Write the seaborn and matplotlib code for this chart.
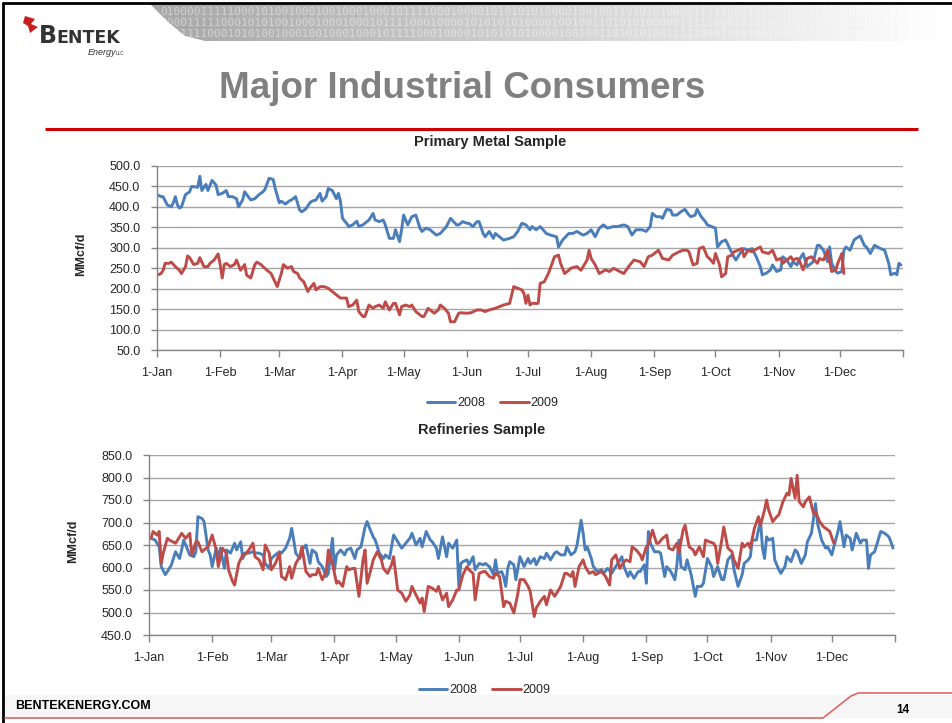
import numpy as np
import pandas as pd
import matplotlib
matplotlib.use("Agg")
import matplotlib.pyplot as plt
from matplotlib.patches import Polygon, Rectangle
from matplotlib.ticker import FormatStrFormatter
import seaborn as sns

# ---- data (day of year, MMcf/d) ----
metal_2008_day = [0, 2, 3, 5, 7, 8, 9, 10, 11, 12, 14, 16, 17, 20, 21, 22, 24, 25, 27, 29, 30, 32, 34, 35, 37, 39,
                  40, 42, 43, 44, 46, 48, 50, 52, 53, 55, 57, 58, 60, 61, 63, 65, 66, 68, 70, 71, 73, 75, 76, 78,
                  80, 81, 83, 84, 86, 88, 89, 90, 91, 93, 94, 96, 98, 99, 101, 102, 104, 106, 107, 109, 111, 112,
                  114, 116, 117, 119, 120, 121, 123, 125, 127, 129, 130, 132, 134, 137, 139, 142, 144, 147, 148,
                  150, 152, 153, 155, 157, 158, 160, 161, 163, 165, 166, 168, 170, 173, 175, 177, 179, 181, 183,
                  184, 186, 188, 191, 193, 196, 197, 199, 202, 204, 206, 209, 211, 213, 215, 217, 219, 221, 224,
                  226, 229, 231, 233, 235, 238, 240, 242, 243, 245, 247, 248, 250, 252, 253, 255, 257, 259, 261,
                  262, 264, 265, 267, 269, 270, 272, 274, 275, 277, 279, 281, 283, 284, 286, 288, 290, 292, 294,
                  296, 297, 299, 301, 302, 304, 306, 307, 309, 311, 312, 314, 315, 317, 319, 320, 322, 324, 325,
                  327, 329, 330, 331, 333, 334, 336, 337, 338, 340, 342, 343, 345, 347, 348, 350, 352, 355, 357,
                  359, 360, 362, 363, 364, 365]
metal_2008 = [430, 425, 425, 405, 400, 410, 425, 405, 397, 400, 430, 437, 450, 448, 475, 440, 455, 440, 465, 453,
              430, 433, 440, 425, 425, 420, 400, 417, 437, 430, 417, 420, 430, 437, 443, 470, 467, 445, 410, 414,
              407, 415, 417, 425, 392, 388, 395, 410, 414, 417, 433, 414, 425, 445, 440, 420, 433, 414, 372, 360,
              352, 356, 365, 352, 356, 360, 368, 384, 368, 364, 368, 356, 323, 323, 344, 315, 344, 380, 356, 376,
              380, 348, 340, 348, 344, 331, 335, 352, 372, 356, 356, 364, 360, 360, 352, 364, 364, 335, 327, 340,
              323, 335, 327, 319, 323, 327, 340, 360, 356, 344, 352, 344, 352, 335, 331, 327, 302, 319, 335, 335,
              340, 331, 335, 344, 327, 348, 356, 348, 352, 352, 356, 352, 331, 344, 344, 340, 352, 384, 376, 376,
              372, 394, 392, 380, 380, 388, 394, 380, 376, 380, 394, 376, 364, 356, 352, 348, 302, 315, 319, 298,
              278, 270, 286, 298, 294, 298, 278, 254, 234, 238, 246, 258, 242, 246, 278, 270, 254, 266, 258, 270,
              286, 254, 258, 266, 306, 306, 294, 266, 302, 262, 242, 238, 242, 294, 302, 294, 319, 323, 329, 306,
              302, 286, 306, 298, 294, 262, 234, 238, 234, 262, 258]

metal_2009_day = [0, 2, 3, 4, 6, 7, 9, 11, 12, 14, 15, 16, 18, 20, 21, 23, 25, 26, 28, 30, 31, 32, 33, 34, 36, 38,
                  39, 41, 43, 44, 46, 48, 49, 51, 52, 54, 56, 57, 59, 61, 62, 64, 66, 67, 69, 70, 72, 74, 75, 77,
                  78, 80, 82, 84, 85, 87, 89, 90, 93, 94, 96, 98, 99, 101, 102, 104, 106, 107, 109, 111, 112, 114,
                  116, 117, 119, 120, 122, 124, 125, 127, 130, 131, 133, 134, 136, 138, 139, 141, 143, 144, 146,
                  148, 149, 152, 154, 157, 159, 161, 163, 166, 168, 170, 173, 175, 177, 179, 180, 181, 182, 183,
                  184, 187, 188, 190, 192, 193, 195, 197, 198, 200, 202, 203, 206, 208, 211, 212, 213, 215, 217,
                  220, 222, 224, 227, 229, 232, 234, 237, 239, 241, 243, 246, 248, 251, 253, 256, 258, 260, 261,
                  263, 265, 266, 268, 270, 271, 273, 274, 276, 277, 279, 280, 282, 283, 285, 287, 288, 290, 292,
                  293, 296, 297, 300, 302, 304, 306, 307, 309, 311, 312, 314, 315, 317, 319, 321, 324, 325, 327,
                  329, 331, 333, 334, 336, 337]
metal_2009 = [233, 237, 245, 262, 262, 265, 254, 245, 237, 254, 280, 276, 259, 262, 276, 254, 254, 262, 270, 285,
              259, 226, 259, 262, 254, 259, 270, 245, 259, 233, 226, 259, 265, 259, 254, 245, 237, 226, 205, 237,
              259, 250, 254, 242, 237, 226, 217, 193, 201, 213, 197, 205, 205, 201, 197, 189, 181, 177, 177, 156,
              160, 172, 144, 132, 132, 160, 152, 156, 160, 152, 168, 148, 164, 164, 136, 156, 160, 156, 160, 144,
              132, 132, 152, 148, 140, 148, 160, 152, 140, 119, 119, 140, 141, 140, 141, 148, 148, 144, 148, 152,
              156, 160, 164, 205, 201, 197, 189, 164, 184, 160, 164, 164, 213, 217, 237, 250, 278, 282, 262, 237,
              245, 250, 254, 245, 270, 294, 274, 258, 237, 246, 242, 250, 242, 237, 258, 270, 266, 254, 278, 282,
              294, 274, 270, 282, 290, 294, 294, 290, 258, 262, 298, 302, 278, 274, 262, 286, 258, 229, 237, 278,
              282, 290, 294, 298, 278, 294, 290, 294, 302, 290, 286, 294, 270, 274, 262, 270, 278, 270, 274, 270,
              246, 274, 278, 262, 274, 270, 294, 242, 246, 262, 286, 237]

refinery_2008_day = [0, 1, 3, 5, 6, 8, 10, 11, 13, 15, 16, 17, 19, 20, 22, 23, 24, 26, 27, 29, 30, 31, 33, 34, 35,
                     37, 38, 40, 42, 43, 45, 46, 47, 49, 51, 52, 54, 56, 57, 59, 60, 62, 64, 65, 67, 69, 70, 71,
                     72, 74, 75, 77, 79, 80, 82, 83, 85, 87, 88, 90, 91, 92, 94, 96, 97, 99, 101, 102, 104, 106,
                     107, 108, 110, 111, 113, 115, 116, 118, 120, 121, 123, 124, 126, 128, 129, 131, 133, 134, 136,
                     138, 139, 141, 142, 144, 146, 147, 149, 151, 152, 153, 154, 156, 157, 159, 160, 162, 164, 165,
                     167, 169, 170, 171, 173, 174, 175, 176, 177, 179, 180, 182, 184, 186, 187, 189, 190, 192, 194,
                     195, 197, 199, 200, 202, 204, 205, 207, 209, 210, 212, 213, 214, 215, 217, 218, 220, 222, 223,
                     225, 227, 228, 230, 232, 233, 235, 236, 238, 240, 241, 243, 244, 245, 246, 248, 250, 251, 253,
                     254, 256, 258, 259, 260, 261, 263, 264, 266, 268, 269, 271, 272, 274, 276, 277, 279, 281, 282,
                     284, 286, 287, 289, 291, 292, 294, 295, 296, 298, 300, 301, 302, 303, 304, 306, 307, 309, 310,
                     312, 313, 315, 317, 318, 320, 322, 323, 325, 327, 328, 330, 332, 333, 335, 336, 338, 339, 341,
                     342, 344, 345, 347, 349, 350, 352, 353, 354, 356, 358, 359, 361, 363, 364, 365]
refinery_2008 = [668, 665, 661, 646, 602, 584, 598, 606, 635, 620, 639, 661, 639, 628, 624, 635, 713, 709, 702,
                 639, 628, 602, 643, 617, 643, 598, 639, 632, 654, 639, 657, 620, 632, 632, 635, 632, 632, 628,
                 609, 598, 620, 628, 635, 632, 643, 665, 687, 661, 632, 620, 639, 650, 609, 639, 632, 613, 602,
                 580, 587, 665, 595, 628, 639, 628, 639, 643, 620, 639, 646, 690, 702, 690, 668, 661, 632, 620,
                 628, 620, 672, 665, 650, 643, 654, 665, 676, 650, 665, 646, 680, 661, 657, 643, 620, 668, 624,
                 654, 643, 661, 558, 609, 613, 617, 606, 624, 595, 609, 606, 609, 602, 584, 617, 587, 591, 580,
                 558, 598, 613, 606, 573, 624, 602, 620, 609, 620, 606, 624, 620, 632, 617, 632, 635, 628, 628,
                 646, 628, 635, 650, 705, 676, 639, 646, 620, 602, 591, 595, 587, 598, 587, 595, 609, 624, 602,
                 580, 591, 576, 591, 591, 606, 565, 680, 654, 635, 635, 632, 580, 602, 591, 573, 606, 661, 602,
                 595, 617, 584, 536, 558, 558, 565, 620, 602, 580, 602, 573, 573, 617, 628, 595, 558, 584, 609,
                 617, 624, 661, 661, 705, 643, 620, 668, 661, 665, 617, 595, 587, 602, 624, 613, 639, 635, 609,
                 628, 657, 676, 742, 698, 661, 643, 646, 628, 646, 680, 702, 646, 672, 665, 639, 676, 654, 661,
                 661, 598, 628, 635, 665, 680, 676, 668, 657, 643]

refinery_2009_day = [0, 1, 2, 4, 5, 6, 7, 9, 10, 13, 15, 16, 18, 20, 21, 23, 24, 26, 28, 29, 31, 33, 34, 36, 38,
                     39, 41, 42, 44, 46, 47, 49, 51, 52, 54, 56, 57, 59, 60, 62, 64, 65, 67, 69, 70, 72, 74, 75,
                     77, 79, 80, 82, 83, 85, 87, 88, 90, 92, 93, 95, 97, 98, 100, 101, 103, 105, 106, 107, 109,
                     110, 112, 114, 115, 117, 119, 120, 122, 124, 126, 128, 129, 131, 133, 134, 135, 137, 139, 141,
                     142, 144, 146, 147, 149, 151, 152, 154, 156, 157, 159, 160, 162, 164, 165, 167, 169, 170, 172,
                     174, 175, 177, 179, 181, 182, 184, 186, 187, 189, 190, 192, 194, 195, 197, 199, 200, 202, 204,
                     205, 207, 208, 209, 211, 213, 214, 216, 218, 219, 222, 224, 226, 227, 229, 231, 232, 234, 236,
                     237, 239, 241, 242, 244, 245, 247, 249, 250, 252, 254, 255, 257, 259, 260, 262, 263, 265, 267,
                     268, 270, 272, 273, 275, 277, 278, 279, 281, 282, 284, 286, 287, 289, 291, 292, 294, 295, 297,
                     299, 300, 302, 303, 304, 306, 308, 309, 311, 313, 314, 315, 317, 318, 319, 321, 322, 324, 326,
                     327, 329, 331, 332, 334, 336]
refinery_2009 = [668, 665, 680, 672, 680, 609, 632, 665, 661, 654, 668, 676, 665, 676, 628, 657, 657, 635, 643,
                 646, 672, 639, 602, 643, 632, 595, 569, 561, 609, 628, 628, 639, 654, 624, 617, 595, 650, 632,
                 595, 609, 632, 580, 573, 602, 576, 609, 624, 646, 591, 580, 584, 584, 598, 573, 591, 639, 609,
                 565, 569, 558, 602, 595, 598, 598, 536, 617, 639, 565, 598, 617, 635, 617, 598, 587, 606, 624,
                 550, 543, 525, 539, 558, 539, 521, 532, 502, 558, 554, 547, 558, 528, 543, 513, 528, 550, 550,
                 584, 602, 595, 587, 528, 587, 591, 591, 580, 576, 587, 580, 513, 525, 521, 499, 543, 573, 573,
                 558, 547, 491, 510, 525, 536, 517, 550, 536, 543, 558, 587, 587, 580, 591, 558, 602, 617, 602,
                 587, 591, 584, 591, 580, 561, 617, 628, 598, 606, 617, 613, 646, 639, 628, 617, 646, 650, 683,
                 654, 654, 665, 672, 643, 639, 654, 632, 683, 694, 646, 639, 628, 646, 624, 661, 657, 654, 646,
                 609, 661, 690, 643, 635, 617, 598, 654, 646, 654, 643, 687, 713, 694, 728, 750, 728, 702, 713,
                 717, 746, 765, 761, 798, 754, 805, 746, 735, 746, 757, 720, 724, 702, 690, 687, 680, 654]

month_starts = [0, 31, 60, 91, 121, 152, 182, 213, 244, 274, 305, 335, 366]
month_labels = ["1-Jan", "1-Feb", "1-Mar", "1-Apr", "1-May", "1-Jun", "1-Jul", "1-Aug",
                "1-Sep", "1-Oct", "1-Nov", "1-Dec", ""]
palette = {"2008": "#4a7ebb", "2009": "#be4b48"}

sns.set_style("white")
plt.rcParams["font.family"] = ["Liberation Sans", "DejaVu Sans"]

W, H = 953, 723
fig = plt.figure(figsize=(W / 100, H / 100), dpi=100)


def px_axes(left, top, right, bottom, **kw):
    return fig.add_axes([left / W, 1 - bottom / H, (right - left) / W, (bottom - top) / H], **kw)


# ---- slide decoration ----
bg = px_axes(0, 0, W, H, zorder=-5)
bg.set_xlim(0, W)
bg.set_ylim(H, 0)
bg.axis("off")

banner = Polygon([(150, 4), (953, 4), (953, 41), (205, 41), (185, 36), (168, 22)],
                 closed=True, facecolor="none", edgecolor="none")
bg.add_patch(banner)
grad = np.linspace(0.70, 1.0, 256)[None, :] ** 1.2
img = bg.imshow(np.repeat(grad, 8, axis=0), cmap="gray", vmin=0, vmax=1, extent=(150, 953, 41, 4),
                aspect="auto", zorder=0)
img.set_clip_path(banner)
digit_rows = ["0100001111100010100100010010001000101111000100001010101010000100100110101",
              "0000111110001010100100010001000101111000100001010101010000100100110101010",
              "0011111000101010010001001000100010111100010000101010101000010010011010101"]
for i, row in enumerate(digit_rows):
    t = bg.text(160, 12 + i * 11, (row * 2)[:112], fontsize=8, color="white", alpha=0.45,
                family="DejaVu Sans Mono", va="center")
    t.set_clip_path(banner)

bg.plot([3, 3], [3, H], color="black", lw=2)
bg.plot([3, W], [3, 3], color="black", lw=2)

bg.add_patch(Polygon([(25, 16), (35, 19), (31, 24), (38, 27), (30, 33), (28, 26), (23, 23)],
                     closed=True, facecolor="#c8201e", edgecolor="none"))
bg.text(39, 43, "B", fontsize=17, fontweight="bold", color="#333333", va="baseline", family="DejaVu Sans")
bg.text(56, 43, "ENTEK", fontsize=12.5, fontweight="bold", color="#333333", va="baseline",
        family="DejaVu Sans")
bg.text(88, 55, "Energy", fontsize=6.5, style="italic", color="#333333", va="baseline")
bg.text(116, 55, "LLC", fontsize=3.5, color="#333333", va="baseline")

bg.text(462, 88, "Major Industrial Consumers", fontsize=26.5, fontweight="bold", color="#808080",
        ha="center", va="center")
bg.plot([45, 918], [129, 129], color="#cc0000", lw=2.2, solid_capstyle="butt")

bg.add_patch(Rectangle((5, 695), W - 5, 23, facecolor="#f6f6f6", edgecolor="none"))
bg.plot([5, 823, 851, 858, W], [718, 718, 696, 693, 693], color="#e06666", lw=1.2)
bg.text(15, 706, "BENTEKENERGY.COM", fontsize=9, fontweight="bold", color="black", va="center")
bg.text(903, 710, "14", fontsize=8.5, fontweight="bold", color="black", ha="center", va="center")


# ---- charts ----
def draw_panel(ax, d08, v08, d09, v09, ymin, ymax, legend_y):
    df = pd.concat([pd.DataFrame({"day": d08, "value": v08, "year": "2008"}),
                    pd.DataFrame({"day": d09, "value": v09, "year": "2009"})], ignore_index=True)
    sns.lineplot(data=df, x="day", y="value", hue="year", palette=palette, estimator=None,
                 linewidth=2.1, ax=ax)
    ax.set_xlim(0, 366)
    ax.set_ylim(ymin, ymax)
    ax.set_yticks(np.arange(ymin, ymax + 1, 50))
    ax.yaxis.set_major_formatter(FormatStrFormatter("%.1f"))
    ax.set_xticks(month_starts)
    ax.set_xticklabels(month_labels)
    ax.set_xlabel("")
    ax.grid(axis="y", color="#a6a6a6", linewidth=1)
    ax.grid(axis="x", visible=False)
    for side in ["top", "right"]:
        ax.spines[side].set_visible(False)
    for side in ["left", "bottom"]:
        ax.spines[side].set_color("#868686")
        ax.spines[side].set_linewidth(1)
    ax.tick_params(axis="x", direction="out", length=5, width=1, color="#868686", pad=7, labelsize=9,
                   bottom=True)
    ax.tick_params(axis="y", direction="out", length=4, width=1, color="#868686", pad=8, labelsize=9,
                   left=True)
    ax.set_ylabel("MMcf/d", fontsize=9, fontweight="bold")
    ax.yaxis.set_label_coords(-0.093, 0.52)
    sns.move_legend(ax, "center", bbox_to_anchor=(0.45, legend_y), ncol=2, frameon=False, title=None,
                    fontsize=9, handlelength=2.3, handletextpad=0.15, columnspacing=1.2)


ax1 = px_axes(157, 166, 903, 350)
draw_panel(ax1, metal_2008_day, metal_2008, metal_2009_day, metal_2009, 50, 500, -0.29)
bg.text(490, 142, "Primary Metal Sample", fontsize=10.5, fontweight="bold", ha="center", va="center")

ax2 = px_axes(149, 455, 895, 635)
draw_panel(ax2, refinery_2008_day, refinery_2008, refinery_2009_day, refinery_2009, 450, 850, -0.305)
bg.text(482, 430, "Refineries Sample", fontsize=10.5, fontweight="bold", ha="center", va="center")

fig.savefig("out.png", dpi=100)
